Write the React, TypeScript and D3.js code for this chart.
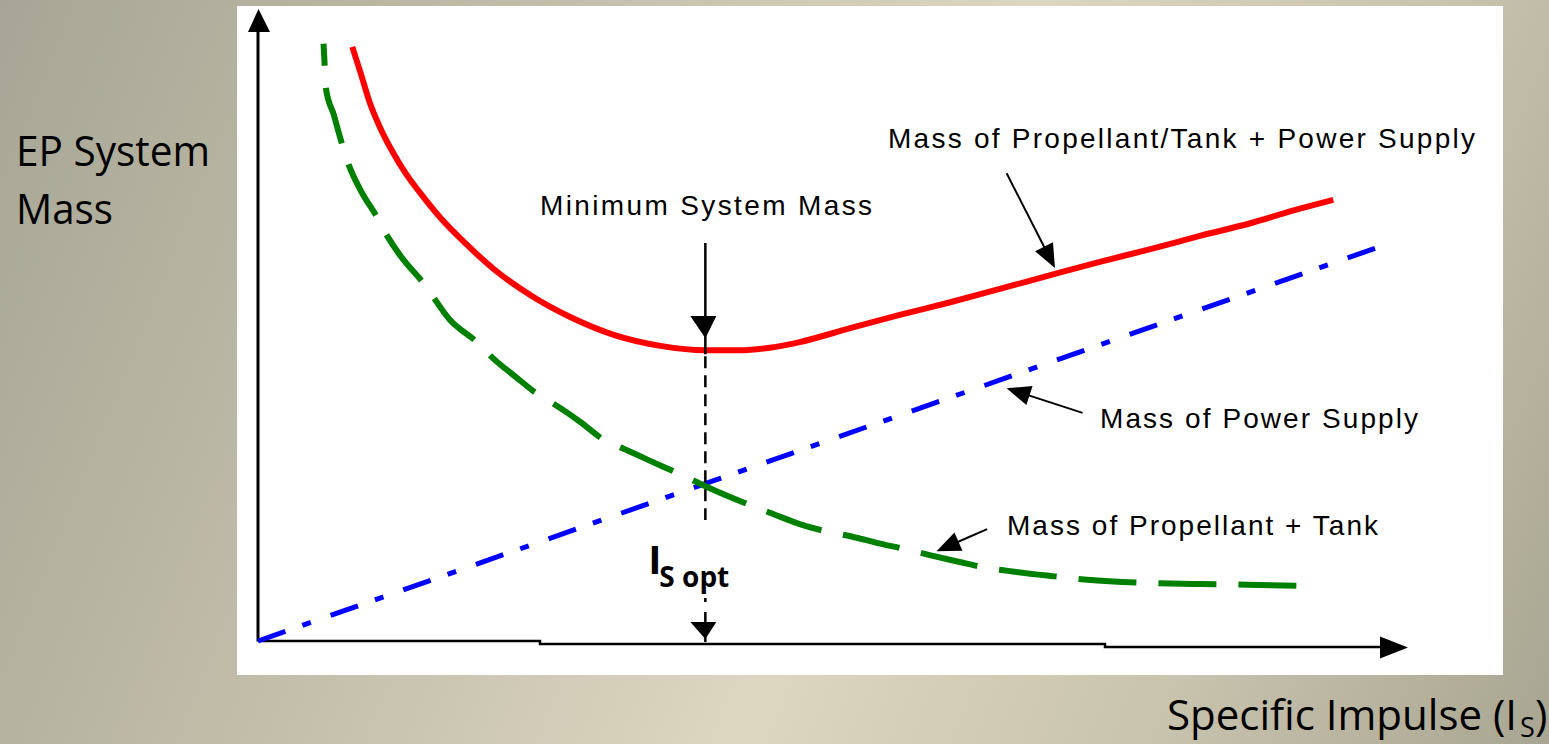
import React from 'react';
import * as d3 from 'd3';

const W = 1549;
const H = 744;

// x: specific impulse (arbitrary units), y: EP system mass (arbitrary units)
const totalIsp = [0.82, 0.89, 0.97, 1.06, 1.17, 1.28, 1.41, 1.58, 1.80, 2.06, 2.37, 2.71, 3.10, 3.50, 3.89, 4.19, 4.45, 4.71, 5.15, 5.58, 6.02, 6.45, 6.89, 7.32, 7.76, 8.19, 8.63, 9.06, 9.35];
const totalMass = [9.40, 9.00, 8.53, 8.13, 7.74, 7.41, 7.09, 6.71, 6.30, 5.87, 5.47, 5.13, 4.84, 4.67, 4.60, 4.60, 4.64, 4.73, 4.95, 5.16, 5.36, 5.57, 5.79, 6.00, 6.20, 6.41, 6.61, 6.84, 6.98];

const propIsp = [0.57, 0.58, 0.59, 0.66, 0.72, 0.79, 0.89, 1.03, 1.13, 1.24, 1.44, 1.67, 1.91, 2.04, 2.24, 2.45, 2.59, 2.80, 3.01, 3.17, 3.41, 3.67, 3.89, 4.28, 4.48, 4.71, 4.95, 5.17, 5.41, 5.61, 5.84, 6.10, 6.30, 6.52, 6.89, 7.21, 7.70, 8.19, 8.60, 9.10];
const propMass = [9.45, 9.10, 8.75, 8.32, 7.93, 7.53, 7.14, 6.72, 6.39, 6.09, 5.66, 5.08, 4.72, 4.48, 4.18, 3.88, 3.73, 3.47, 3.18, 3.05, 2.85, 2.64, 2.45, 2.15, 2.01, 1.85, 1.73, 1.65, 1.54, 1.46, 1.36, 1.25, 1.17, 1.11, 1.03, 0.97, 0.92, 0.90, 0.89, 0.87];

const powerIsp = [0, 2, 4, 6, 8, 9.74];
const powerMass = [0, 1.28, 2.56, 3.84, 5.12, 6.23];

const isOpt = 3.89;
const minMass = 4.60;

// annotation arrows in data units: [fromX, fromY, toX, toY]
const arrowTotal = [6.51, 7.40, 6.93, 5.90];
const arrowPower = [7.17, 3.61, 6.51, 4.00];
const arrowProp = [6.34, 1.77, 5.90, 1.42];

const labelFont = '"Liberation Sans", Arial, sans-serif';
const bodyFont = '"Open Sans", "Noto Sans", sans-serif';

function arrowHead(x1: number, y1: number, x2: number, y2: number, len = 24, half = 10) {
  const a = Math.atan2(y2 - y1, x2 - x1);
  const bx = x2 - len * Math.cos(a);
  const by = y2 - len * Math.sin(a);
  const px = -Math.sin(a) * half;
  const py = Math.cos(a) * half;
  return `${x2},${y2} ${bx + px},${by + py} ${bx - px},${by - py}`;
}

export default function App() {
  const x = d3.scaleLinear().domain([0, 10]).range([258, 1408]);
  const y = d3.scaleLinear().domain([0, 10]).range([641, 9]);

  const line = d3
    .line<[number, number]>()
    .x((d) => x(d[0]))
    .y((d) => y(d[1]))
    .curve(d3.curveMonotoneX);

  const totalPts = totalIsp.map((v, i) => [v, totalMass[i]] as [number, number]);
  const propPts = propIsp.map((v, i) => [v, propMass[i]] as [number, number]);
  const powerPts = powerIsp.map((v, i) => [v, powerMass[i]] as [number, number]);

  const xo = x(isOpt);
  const yMin = y(minMass);

  const arrows = [arrowTotal, arrowPower, arrowProp].map((a) => {
    const x1 = x(a[0]), y1 = y(a[1]), x2 = x(a[2]), y2 = y(a[3]);
    const ang = Math.atan2(y2 - y1, x2 - x1);
    return { x1, y1, x2, y2, lx: x2 - 20 * Math.cos(ang), ly: y2 - 20 * Math.sin(ang) };
  });

  return (
    <svg
      width={W}
      height={H}
      style={{ position: 'fixed', left: 0, top: 0, display: 'block' }}
      xmlns="http://www.w3.org/2000/svg"
    >
      <defs>
        <linearGradient id="bg" gradientUnits="userSpaceOnUse" x1={-12} y1={24} x2={1582} y2={667}>
          <stop offset="0" stopColor="#a7a595" />
          <stop offset="0.3" stopColor="#c2beaa" />
          <stop offset="0.56" stopColor="#ddd6c1" />
          <stop offset="0.78" stopColor="#c9c4ae" />
          <stop offset="1" stopColor="#a8a592" />
        </linearGradient>
      </defs>
      <rect x={0} y={0} width={W} height={H} fill="url(#bg)" />
      <rect x={237} y={6} width={1266} height={669} fill="#ffffff" />

      {/* axes */}
      <line x1={x(0)} y1={y(0) + 0.5} x2={x(0)} y2={30} stroke="#000" strokeWidth={3} />
      <polygon points={`${x(0) + 0.5},9 ${x(0) - 10},32 ${x(0) + 12},32`} fill="#000" />
      <polyline
        points={`${x(0)},${y(0)} 540,${y(0)} 540,${y(0) + 3} 1105,${y(0) + 3} 1105,${y(0) + 6} 1385,${y(0) + 6}`}
        fill="none"
        stroke="#000"
        strokeWidth={2.5}
      />
      <polygon points={`1408,${y(0) + 6.5} 1380,${y(0) - 4.5} 1380,${y(0) + 17.5}`} fill="#000" />

      {/* curves */}
      <path
        d={line(powerPts) || ''}
        fill="none"
        stroke="#0000ff"
        strokeWidth={5}
        strokeDasharray="29 18 9 21"
      />
      <path
        d={line(propPts) || ''}
        fill="none"
        stroke="#008000"
        strokeWidth={6}
        strokeDasharray="58 22"
        strokeDashoffset={36}
      />
      <path d={line(totalPts) || ''} fill="none" stroke="#ff0000" strokeWidth={6} />

      {/* optimum marker */}
      <line x1={xo} y1={243} x2={xo} y2={yMin + 4} stroke="#000" strokeWidth={2.5} />
      <polygon points={`${xo},${yMin - 12} ${xo - 15},316 ${xo + 11},316`} fill="#000" />
      <line x1={xo} y1={yMin + 6} x2={xo} y2={520} stroke="#000" strokeWidth={2.5} strokeDasharray="12 7" />
      <line x1={xo} y1={598} x2={xo} y2={y(0) + 3} stroke="#000" strokeWidth={2.5} strokeDasharray="4 10 30" />
      <polygon points={`${xo},639 ${xo - 15},622 ${xo + 11},622`} fill="#000" />

      <text x={xo - 57} y={574} fontFamily={bodyFont} fontWeight={700} fontSize={40} fill="#000">I</text>
      <text x={xo - 46} y={587} fontFamily={bodyFont} fontWeight={700} fontSize={28} fill="#000">S opt</text>

      {/* annotation arrows */}
      {arrows.map((a, i) => (
        <g key={i}>
          <line x1={a.x1} y1={a.y1} x2={a.lx} y2={a.ly} stroke="#000" strokeWidth={2} />
          <polygon points={arrowHead(a.x1, a.y1, a.x2, a.y2)} fill="#000" />
        </g>
      ))}

      {/* labels */}
      <text x={888} y={148} fontFamily={labelFont} fontSize={28} textLength={587} lengthAdjust="spacing" fill="#000">
        Mass of Propellant/Tank + Power Supply
      </text>
      <text x={540} y={215} fontFamily={labelFont} fontSize={28} textLength={332} lengthAdjust="spacing" fill="#000">
        Minimum System Mass
      </text>
      <text x={1100} y={428} fontFamily={labelFont} fontSize={28} textLength={318} lengthAdjust="spacing" fill="#000">
        Mass of Power Supply
      </text>
      <text x={1007} y={535} fontFamily={labelFont} fontSize={28} textLength={371} lengthAdjust="spacing" fill="#000">
        Mass of Propellant + Tank
      </text>

      {/* axis titles */}
      <text x={16} y={166} fontFamily={bodyFont} fontSize={42} textLength={194} lengthAdjust="spacingAndGlyphs" fill="#000">
        EP System
      </text>
      <text x={16} y={224} fontFamily={bodyFont} fontSize={42} textLength={97} lengthAdjust="spacingAndGlyphs" fill="#000">
        Mass
      </text>
      <text x={1167} y={730} fontFamily={bodyFont} fontSize={42} textLength={350} lengthAdjust="spacingAndGlyphs" fill="#000">
        Specific Impulse (I
      </text>
      <text x={1520} y={737} fontFamily={bodyFont} fontSize={27} fill="#000">S</text>
      <text x={1535} y={730} fontFamily={bodyFont} fontSize={42} fill="#000">)</text>
    </svg>
  );
}
